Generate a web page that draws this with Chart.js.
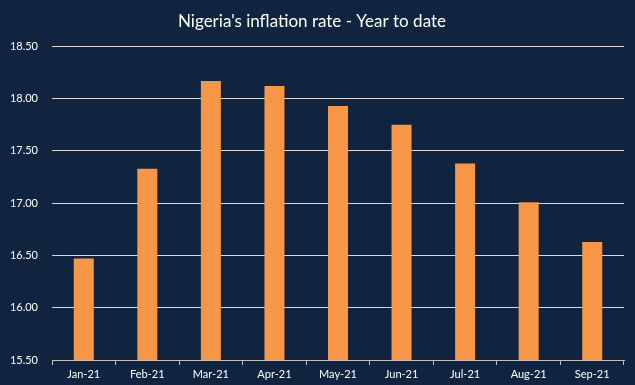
<!DOCTYPE html>
<html>
<head>
<meta charset="utf-8">
<script src="https://cdn.jsdelivr.net/npm/chart.js@4/dist/chart.umd.min.js"></script>
<style>
  html, body { margin: 0; padding: 0; background: #11243f; }
  #wrap { width: 635px; height: 385px; position: relative; }
</style>
</head>
<body>
<div id="wrap"><canvas id="inflationChart"></canvas></div>
<script>
const months = ["Jan-21", "Feb-21", "Mar-21", "Apr-21", "May-21", "Jun-21", "Jul-21", "Aug-21", "Sep-21"];
const inflationRates = [16.47, 17.33, 18.17, 18.12, 17.93, 17.75, 17.38, 17.01, 16.63];
const yMin = 15.5;
const yMax = 18.5;
const yStep = 0.5;

const chartFont = "Lato, 'Open Sans', sans-serif";

new Chart(document.getElementById("inflationChart"), {
    type: "bar",
    data: {
        labels: months,
        datasets: [{
            label: "Inflation rate",
            data: inflationRates,
            backgroundColor: "#f79646",
            barPercentage: 0.63,
            categoryPercentage: 0.5
        }]
    },
    options: {
        responsive: true,
        maintainAspectRatio: false,
        animation: false,
        layout: { padding: { left: 0, right: 11, top: 0, bottom: 0 } },
        plugins: {
            legend: { display: false },
            tooltip: { enabled: false },
            title: {
                display: true,
                text: "Nigeria's inflation rate - Year to date",
                color: "#ffffff",
                font: { family: chartFont, size: 17, weight: "normal" },
                padding: { top: 11, bottom: 15 }
            }
        },
        scales: {
            x: {
                grid: {
                    display: true,
                    drawOnChartArea: false,
                    color: "#bfbfbf",
                    tickLength: 5,
                    offset: true
                },
                border: { display: true, color: "#bfbfbf" },
                ticks: {
                    color: "#ffffff",
                    font: { family: chartFont, size: 11 },
                    padding: 3
                },
                afterFit: (scale) => { scale.height = 25; }
            },
            y: {
                min: yMin,
                max: yMax,
                ticks: {
                    stepSize: yStep,
                    color: "#ffffff",
                    font: { family: chartFont, size: 11 },
                    padding: 14,
                    callback: (v) => v.toFixed(2)
                },
                grid: { color: "#d9d9d9", drawTicks: false },
                border: { display: false },
                afterFit: (scale) => { scale.width = 52; }
            }
        }
    }
});
</script>
</body>
</html>
